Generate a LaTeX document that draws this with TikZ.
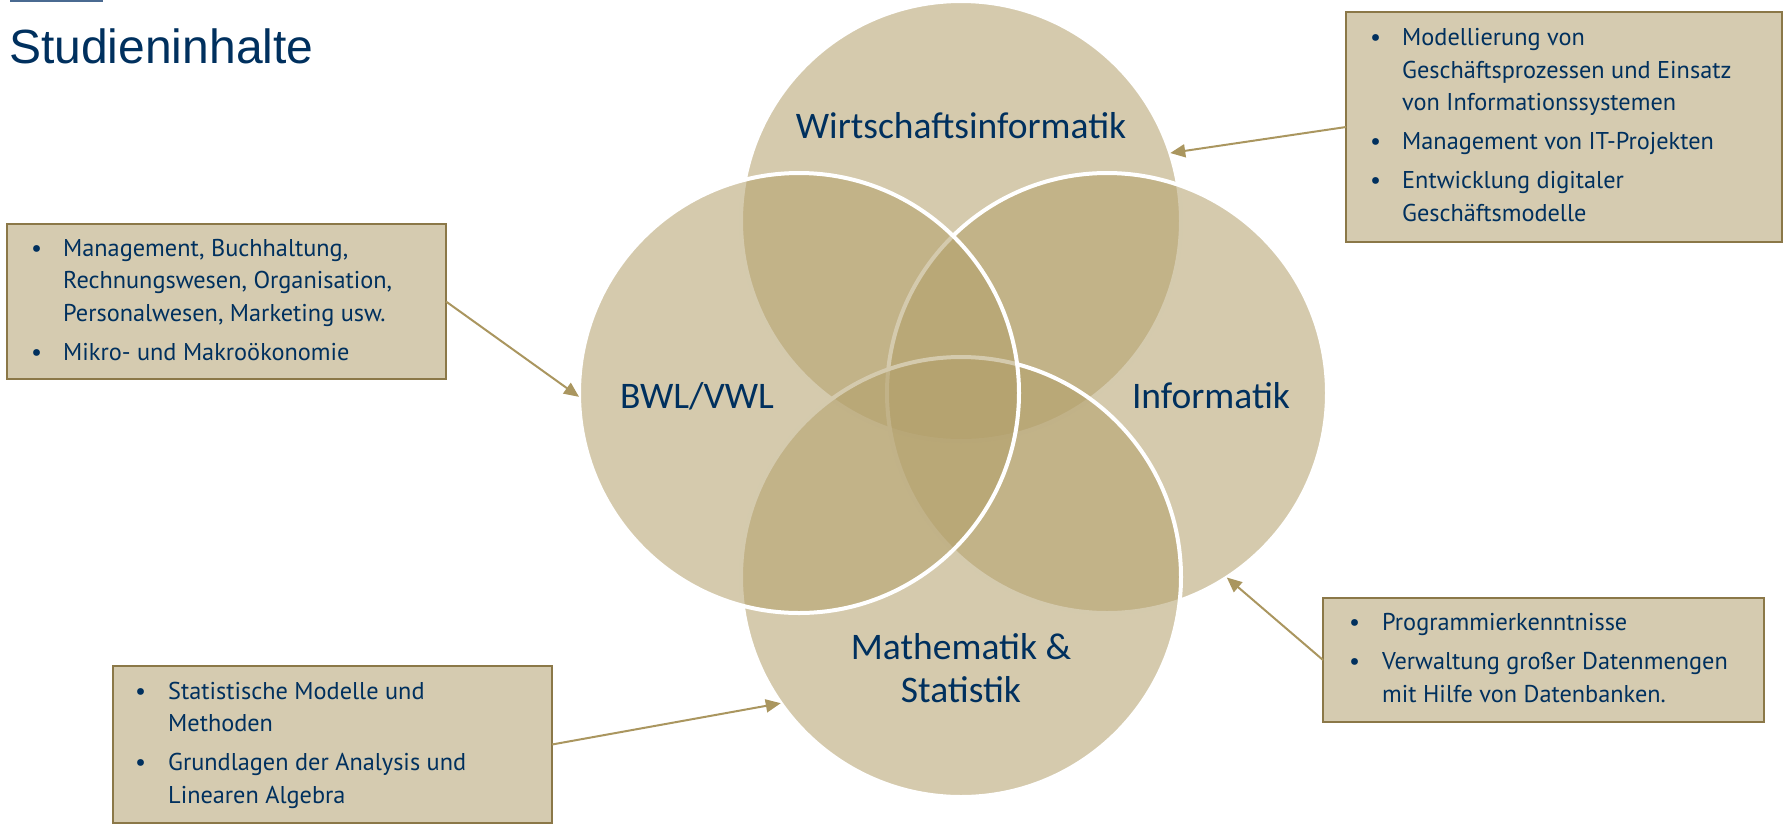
\documentclass[tikz,border=0pt]{standalone}
\usepackage{fontspec}
\setmainfont{Carlito}
\newfontfamily\titelfont{Liberation Sans}
\newfontfamily\kastenfont{PT Sans}
\usetikzlibrary{arrows.meta}
\definecolor{gold}{RGB}{178,159,106}
\definecolor{kastenfill}{RGB}{213,203,176}
\definecolor{kastenrand}{RGB}{139,120,72}
\definecolor{pfeilgold}{RGB}{170,150,95}
\definecolor{dunkelblau}{RGB}{0,48,94}
\definecolor{linienblau}{RGB}{74,106,145}
\newcommand{\pkt}{\textbullet}
\tikzset{
  kreis/.style={circle,minimum size=440pt,inner sep=0pt,outer sep=0pt,draw=white,line width=4pt,fill=gold,fill opacity=0.55},
  kreistext/.style={text=dunkelblau,font=\fontsize{37.5}{43}\selectfont,align=center,inner sep=0pt},
  kasten/.style={draw=kastenrand,line width=2pt,fill=kastenfill,anchor=north west,inner sep=0pt,outer sep=0pt},
  kastentext/.style={anchor=west,inner sep=0pt,text=dunkelblau,font=\kastenfont\fontsize{24.3}{32.5}\selectfont},
  pfeil/.style={draw=pfeilgold,line width=2pt,-{Triangle[length=15pt,width=13pt]}}
}
\begin{document}
\begin{tikzpicture}[x=1pt,y=-1pt]
\useasboundingbox (0,0) rectangle (1783,823);
\draw[linienblau,line width=1.5pt] (10,0.75) -- (103,0.75);
\node[anchor=base west,inner sep=0pt,text=dunkelblau,font=\titelfont\fontsize{48}{56}\selectfont] (titel) at (9,63) {Studieninhalte};

\node[kreis] (wi) at (961,221) {};
\node[kreis] (inf) at (1107,393) {};
\node[kreis] (ms) at (961,577) {};
\node[kreis] (bwl) at (799,393) {};

\node[kreistext,anchor=base] (wilabel) at (961,138) {Wirtschaftsinformatik};
\node[kreistext,anchor=base] (bwllabel) at (697,408) {BWL/VWL};
\node[kreistext,anchor=base] (inflabel) at (1211,408) {Informatik};
\node[kreistext] (mslabel) at (961,668) {Mathematik \&\\Statistik};

\node[kasten,minimum width=439pt,minimum height=155pt] (bwlkasten) at (7,224) {};
\node[kastentext] (bwltext) at ([xshift=24pt]bwlkasten.west) {\begin{tabular}{@{}p{32pt}@{}l@{}}
\pkt & Management, Buchhaltung,\\
 & Rechnungswesen, Organisation,\\
 & Personalwesen, Marketing usw.\\[6.5pt]
\pkt & Mikro- und Makroökonomie
\end{tabular}};

\node[kasten,minimum width=436pt,minimum height=230pt] (wikasten) at (1346,12) {};
\node[kastentext] (witext) at ([xshift=24pt]wikasten.west) {\begin{tabular}{@{}p{32pt}@{}l@{}}
\pkt & Modellierung von\\
 & Geschäftsprozessen und Einsatz\\
 & von Informationssystemen\\[6.5pt]
\pkt & Management von IT-Projekten\\[6.5pt]
\pkt & Entwicklung digitaler\\
 & Geschäftsmodelle
\end{tabular}};

\node[kasten,minimum width=441pt,minimum height=124pt] (infkasten) at (1323,598) {};
\node[kastentext] (inftext) at ([xshift=26pt]infkasten.west) {\begin{tabular}{@{}p{33pt}@{}l@{}}
\pkt & Programmierkenntnisse\\[6.5pt]
\pkt & Verwaltung großer Datenmengen\\
 & mit Hilfe von Datenbanken.
\end{tabular}};

\node[kasten,minimum width=439pt,minimum height=157pt] (mskasten) at (113,666) {};
\node[kastentext] (mstext) at ([xshift=22pt]mskasten.west) {\begin{tabular}{@{}p{33pt}@{}l@{}}
\pkt & Statistische Modelle und\\
 & Methoden\\[6.5pt]
\pkt & Grundlagen der Analysis und\\
 & Linearen Algebra
\end{tabular}};

\draw[pfeil] (wikasten.west) -- (wi.18.5);
\draw[pfeil] (bwlkasten.east) -- (bwl.181);
\draw[pfeil] (infkasten.west) -- (inf.-57);
\draw[pfeil] (mskasten.east) -- (ms.215);
\end{tikzpicture}
\end{document}
